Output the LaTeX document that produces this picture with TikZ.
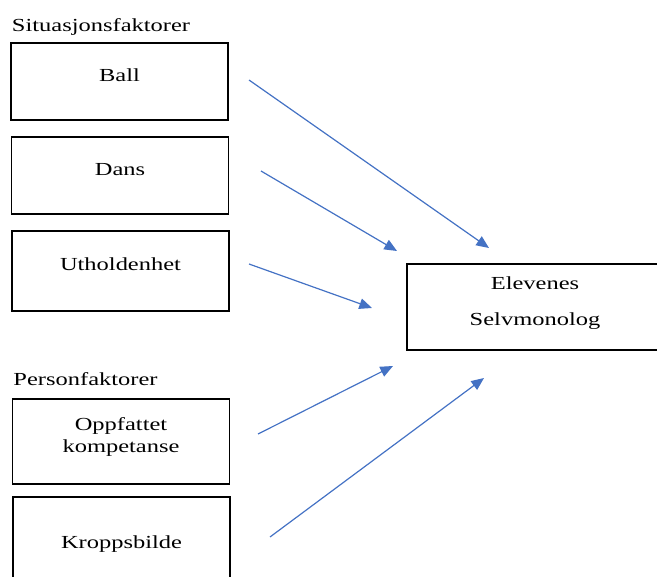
\documentclass[tikz,border=0pt]{standalone}
\usepackage{fontspec}
\setmainfont{Liberation Serif}[FakeStretch=1.33]
\usepackage{xcolor}
\usepackage{tikz}
\usetikzlibrary{positioning, arrows.meta}

\definecolor{arrowblue}{HTML}{4472C4}

\begin{document}
\begin{tikzpicture}[
    x=0.75pt, y=-0.75pt,
    font=\fontsize{13.8}{16.5}\selectfont,
    box/.style={rectangle, draw, line width=0.9pt, minimum width=162.75pt, minimum height=57.75pt, align=center, text height=10pt, text depth=10pt},
    heading/.style={inner sep=0pt},
    arrow/.style={-{Triangle[length=9.5pt, width=8pt]}, line width=0.9pt, draw=arrowblue}
]
\useasboundingbox (0,0) rectangle (657,577);
\clip (0,0) rectangle (657,577);

% Faktorer
\node[box] (ball) at (119.5,81.5) {Ball};
\node[box] (dans) at (120,175.5) {Dans};
\node[box, minimum height=60pt] (utholdenhet) at (120.5,271) {Utholdenhet};
\node[box, minimum height=63.75pt, text height=17.2pt, text depth=0pt] (oppfattet) at (121,441.5) {Oppfattet\\kompetanse};
\node[box, minimum height=63.75pt, text height=13pt, text depth=0pt] (kropp) at (121.5,539.5) {Kroppsbilde};

% Selvmonolog
\node[box, minimum width=192pt, minimum height=64.5pt, text height=28.5pt, text depth=0pt] (selvmonolog) at (535,307) {Elevenes\\[11pt]Selvmonolog};

% Overskrifter
\node[heading, above right=5pt and 1pt of ball.north west] (situasjon) {Situasjonsfaktorer};
\node[heading, above right=9pt and 1pt of oppfattet.north west] (person) {Personfaktorer};

% Pilendepunkter
\coordinate (ballfra) at (249,80);
\coordinate (balltil) at (489,248);
\coordinate (dansfra) at (261,171);
\coordinate (danstil) at (397,251);
\coordinate (uthfra) at (249,264);
\coordinate (uthtil) at (372,308);
\coordinate (oppfra) at (258,434);
\coordinate (opptil) at (393,366);
\coordinate (kroppfra) at (270,537);
\coordinate (kropptil) at (484,378);

% Piler
\draw[arrow] (ballfra) -- (balltil);
\draw[arrow] (dansfra) -- (danstil);
\draw[arrow] (uthfra) -- (uthtil);
\draw[arrow] (oppfra) -- (opptil);
\draw[arrow] (kroppfra) -- (kropptil);

\end{tikzpicture}
\end{document}
